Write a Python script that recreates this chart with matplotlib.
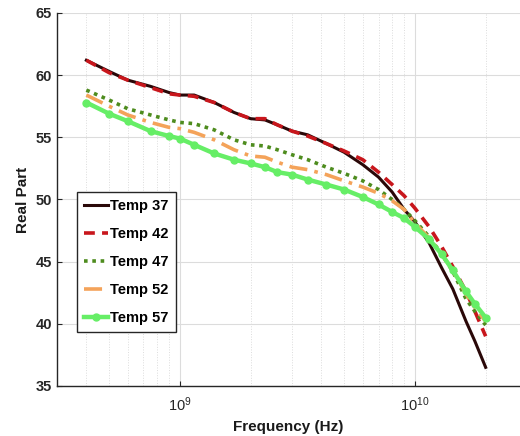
import matplotlib
matplotlib.use("Agg")
import matplotlib.pyplot as plt
import numpy as np

plt.rcParams["font.family"] = ["Liberation Sans", "DejaVu Sans"]

# frequency points (GHz) shared by all series
freq_ghz = [0.4, 0.5, 0.6, 0.75, 0.9, 1.0, 1.15, 1.4, 1.7, 2.0, 2.3, 2.6, 3.0,
            3.5, 4.2, 5.0, 6.0, 7.0, 8.0, 9.0, 10, 11.5, 13, 14.5, 16.5, 18, 20]

temp37 = [61.2, 60.3, 59.6, 59.1, 58.6, 58.4, 58.4, 57.8, 57.0, 56.5, 56.4, 56.0, 55.5,
          55.2, 54.5, 53.8, 52.8, 51.8, 50.6, 49.2, 48.2, 46.5, 44.5, 42.8, 40.2, 38.6, 36.5]
temp42 = [61.2, 60.2, 59.6, 59.0, 58.5, 58.4, 58.3, 57.8, 57.0, 56.5, 56.5, 56.0, 55.5,
          55.1, 54.5, 53.9, 53.2, 52.2, 51.2, 50.3, 49.3, 47.8, 46.2, 44.6, 42.6, 41.0, 39.0]
temp47 = [58.8, 58.0, 57.3, 56.8, 56.4, 56.2, 56.1, 55.6, 54.8, 54.4, 54.3, 54.0, 53.6,
          53.2, 52.6, 52.1, 51.5, 50.8, 50.0, 49.2, 48.3, 47.0, 45.6, 44.2, 42.0, 41.0, 39.9]
temp52 = [58.4, 57.5, 56.8, 56.2, 55.8, 55.7, 55.4, 54.8, 54.0, 53.5, 53.4, 53.0, 52.6,
          52.4, 52.0, 51.5, 51.0, 50.5, 49.9, 49.2, 48.1, 46.9, 45.6, 44.3, 42.4, 41.3, 40.2]
temp57 = [57.8, 56.9, 56.3, 55.5, 55.1, 54.9, 54.4, 53.7, 53.2, 52.9, 52.6, 52.2, 52.0,
          51.6, 51.2, 50.8, 50.2, 49.6, 49.0, 48.5, 47.8, 46.8, 45.6, 44.3, 42.6, 41.6, 40.5]

freq = np.array(freq_ghz) * 1e9

fig = plt.figure(figsize=(5.2, 4.36), dpi=100)
ax = fig.add_axes([0.1096, 0.1147, 0.8904, 0.8555])

ax.plot(freq, temp37, color="#2a0808", lw=2.2, label="Temp 37")
ax.plot(freq, temp42, color="#c8161c", lw=2.6, ls=(0, (3, 2)), label="Temp 42")
ax.plot(freq, temp47, color="#4e8c1e", lw=2.6, ls=(0, (1, 1.3)), label="Temp 47")
ax.plot(freq, temp52, color="#f4a35a", lw=2.6, ls=(0, (5, 2, 1, 2)), label="Temp 52")
ax.plot(freq, temp57, color="#66ee66", lw=3.2, marker="o", ms=5, label="Temp 57")

ax.set_xscale("log")
ax.set_xlim(3.0e8, 2.8e10)
ax.set_ylim(35, 65)
ax.set_yticks(range(35, 66, 5))

ax.grid(True, which="major", color="#dcdcdc", lw=0.8, ls="-")
ax.grid(True, which="minor", axis="x", color="#dcdcdc", lw=0.7, ls=":")
ax.set_axisbelow(True)

for side in ("top", "right"):
    ax.spines[side].set_visible(False)
for side in ("left", "bottom"):
    ax.spines[side].set_color("#262626")
    ax.spines[side].set_linewidth(1.0)

ax.tick_params(which="both", direction="in", colors="#262626", labelsize=10.5)
ax.tick_params(axis="x", pad=7)
ax.tick_params(which="minor", length=0)
for lbl in ax.get_yticklabels():
    lbl.set_fontweight("bold")

ax.set_xlabel("Frequency (Hz)", fontsize=11, fontweight="bold", color="#1a1a1a")
ax.set_ylabel("Real Part", fontsize=11, fontweight="bold", color="#1a1a1a")

leg = ax.legend(loc="lower left", bbox_to_anchor=(0.043, 0.145), borderaxespad=0,
                prop={"size": 10.5, "weight": "bold"}, labelspacing=0.95,
                handlelength=1.6, handletextpad=0.15, borderpad=0.5,
                fancybox=False, framealpha=1)
leg.get_frame().set_edgecolor("#262626")
leg.get_frame().set_linewidth(1.0)

fig.savefig("out.png", dpi=100)
